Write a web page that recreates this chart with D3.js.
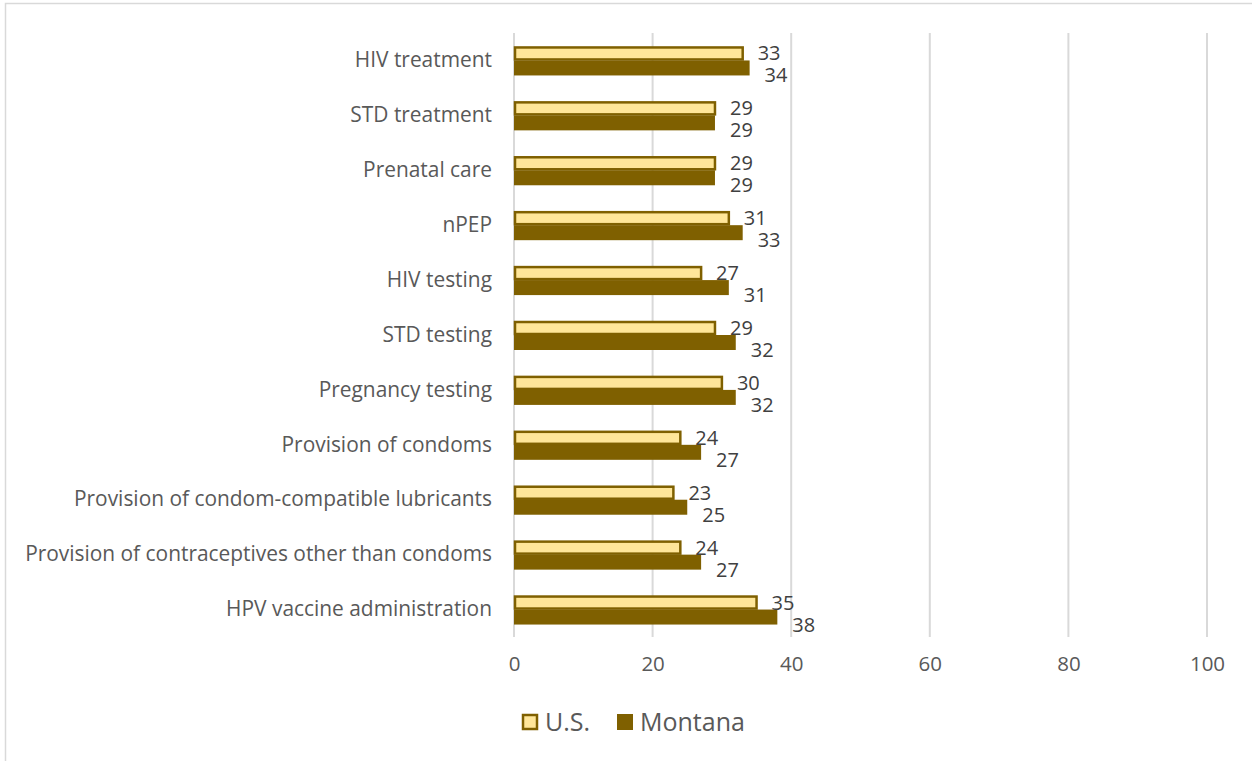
<!DOCTYPE html>
<html lang="en">
<head>
  <meta charset="UTF-8">
  <title>Services Bar Chart</title>
  <script src="https://d3js.org/d3.v7.min.js"></script>
  <style>
    body {
      margin: 0;
      background: white;
      font-family: "Open Sans", Arial, sans-serif;
    }
    svg { display: block; }
  </style>
</head>
<body>

<svg id="chart" width="1252" height="761"></svg>

<script>
  const categories = [
    "HIV treatment",
    "STD treatment",
    "Prenatal care",
    "nPEP",
    "HIV testing",
    "STD testing",
    "Pregnancy testing",
    "Provision of condoms",
    "Provision of condom-compatible lubricants",
    "Provision of contraceptives other than condoms",
    "HPV vaccine administration"
  ];
  const usValues =      [33, 29, 29, 31, 27, 29, 30, 24, 23, 24, 35];
  const montanaValues = [34, 29, 29, 33, 31, 32, 32, 27, 25, 27, 38];
  const xTicks = [0, 20, 40, 60, 80, 100];
  const seriesNames = ["U.S.", "Montana"];

  const data = categories.map((c, i) => ({
    category: c,
    us: usValues[i],
    montana: montanaValues[i]
  }));

  const svg = d3.select("#chart");
  const textColor = "#595959";
  const dark = "#7F6000";
  const light = "#FFE699";

  // chart frame
  svg.append("rect")
    .attr("x", 5.5).attr("y", 3.5)
    .attr("width", 1260).attr("height", 770)
    .attr("fill", "none")
    .attr("stroke", "#d9d9d9")
    .attr("stroke-width", 1.5);

  const x = d3.scaleLinear().domain([0, 100]).range([514, 1207]);
  const y = d3.scaleBand().domain(categories).range([33, 637]);
  const barH = 14;

  // gridlines
  svg.append("g")
    .selectAll("line")
    .data(xTicks)
    .enter()
    .append("line")
    .attr("x1", d => x(d)).attr("x2", d => x(d))
    .attr("y1", 33).attr("y2", 637)
    .attr("stroke", "#d9d9d9")
    .attr("stroke-width", 2);

  // x axis labels
  const xAxis = svg.append("g")
    .attr("transform", "translate(0,656)")
    .call(d3.axisBottom(x).tickValues(xTicks).tickSize(0).tickPadding(0));
  xAxis.select(".domain").remove();
  xAxis.selectAll("text")
    .attr("fill", textColor)
    .attr("font-size", 20.5)
    .attr("font-family", "'Open Sans', Arial, sans-serif");

  // category labels
  const yAxis = svg.append("g")
    .attr("transform", "translate(492,0)")
    .call(d3.axisLeft(y).tickSize(0).tickPadding(0));
  yAxis.select(".domain").remove();
  yAxis.selectAll("text")
    .attr("fill", textColor)
    .attr("font-size", 20.9)
    .attr("font-family", "'Open Sans', Arial, sans-serif");

  const groups = svg.selectAll(".bar-group")
    .data(data)
    .enter()
    .append("g")
    .attr("transform", d => `translate(0,${y(d.category) + y.bandwidth() / 2})`);

  // Montana bars (bottom)
  groups.append("rect")
    .attr("x", x(0))
    .attr("y", 0)
    .attr("width", d => x(d.montana) - x(0))
    .attr("height", barH + 1)
    .attr("fill", dark);

  // U.S. bars (top)
  groups.append("rect")
    .attr("x", x(0) + 1)
    .attr("y", -barH + 1)
    .attr("width", d => x(d.us) - x(0) - 1)
    .attr("height", barH - 2)
    .attr("fill", light)
    .attr("stroke", dark)
    .attr("stroke-width", 2.5);

  // value labels
  groups.append("text")
    .attr("x", d => x(d.us) + 15)
    .attr("y", -barH / 2)
    .attr("dy", "0.35em")
    .attr("fill", "#404040")
    .attr("font-size", 20)
    .text(d => d.us);

  groups.append("text")
    .attr("x", d => x(d.montana) + 15)
    .attr("y", barH / 2 + 8)
    .attr("dy", "0.35em")
    .attr("fill", "#404040")
    .attr("font-size", 20)
    .text(d => d.montana);

  // legend
  const legend = svg.append("g").attr("transform", "translate(522,722)");
  const lx = [0, 95];
  legend.append("rect")
    .attr("x", lx[0] + 1).attr("y", -7)
    .attr("width", 14).attr("height", 14)
    .attr("fill", light).attr("stroke", dark).attr("stroke-width", 2.5);
  legend.append("rect")
    .attr("x", lx[1]).attr("y", -8)
    .attr("width", 16).attr("height", 16)
    .attr("fill", dark);
  legend.selectAll(".legend-text")
    .data(seriesNames)
    .enter()
    .append("text")
    .attr("x", (d, i) => lx[i] + 23)
    .attr("y", 0)
    .attr("dy", "0.35em")
    .attr("fill", textColor)
    .attr("font-size", 25)
    .text(d => d);
</script>

</body>
</html>
